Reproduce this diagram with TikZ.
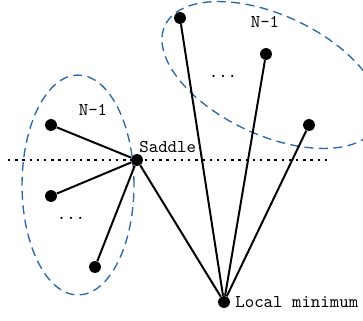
\documentclass[tikz,border=0pt]{standalone}
\begin{document}
\begin{tikzpicture}[x=0.5556pt,y=-0.5556pt,
  dot/.style={circle,fill=black,inner sep=0pt,minimum size=6.6pt},
  edge/.style={line width=1.1pt},
  group/.style={draw={rgb,255:red,46;green,104;blue,165},line width=0.75pt,dash pattern=on 5pt off 3pt},
  lbl/.style={font=\ttfamily,inner sep=0pt},
  level/.style={line width=1.3pt,dash pattern=on 1.3pt off 2.7pt}]
\useasboundingbox (0,0) rectangle (363,320);
% groups
\draw[group] (78,185) ellipse [x radius=31.1pt, y radius=61.1pt];
\draw[group,rotate around={-25:(271,75)}] (271,75) ellipse [x radius=65pt, y radius=33.3pt];
% level line
\coordinate (l0) at (8,160);
\coordinate (l1) at (330,160);
\draw[level] (l0) -- (l1);
% nodes
\node[dot] (s) at (137,160) {};
\node[dot] (a1) at (51,125) {};
\node[dot] (a2) at (51,196) {};
\node[dot] (a3) at (95,267) {};
\node[dot] (m) at (224,302) {};
\node[dot] (b1) at (180,18) {};
\node[dot] (b2) at (266,54) {};
\node[dot] (b3) at (309,125) {};
% edges
\draw[edge] (s) -- (a1);
\draw[edge] (s) -- (a2);
\draw[edge] (s) -- (a3);
\draw[edge] (s) -- (m);
\draw[edge] (m) -- (b1);
\draw[edge] (m) -- (b2);
\draw[edge] (m) -- (b3);
% labels
\node[lbl] (t1) at (93,110) {N-1};
\node[lbl] (t2) at (265,22) {N-1};
\node[lbl] (d1) at (71,218) {...};
\node[lbl] (d2) at (223,76) {...};
\node[lbl,anchor=south west] (ts) at (139,153) {Saddle};
\node[lbl,anchor=west] (tm) at (235,302) {Local minimum};
\end{tikzpicture}
\end{document}
